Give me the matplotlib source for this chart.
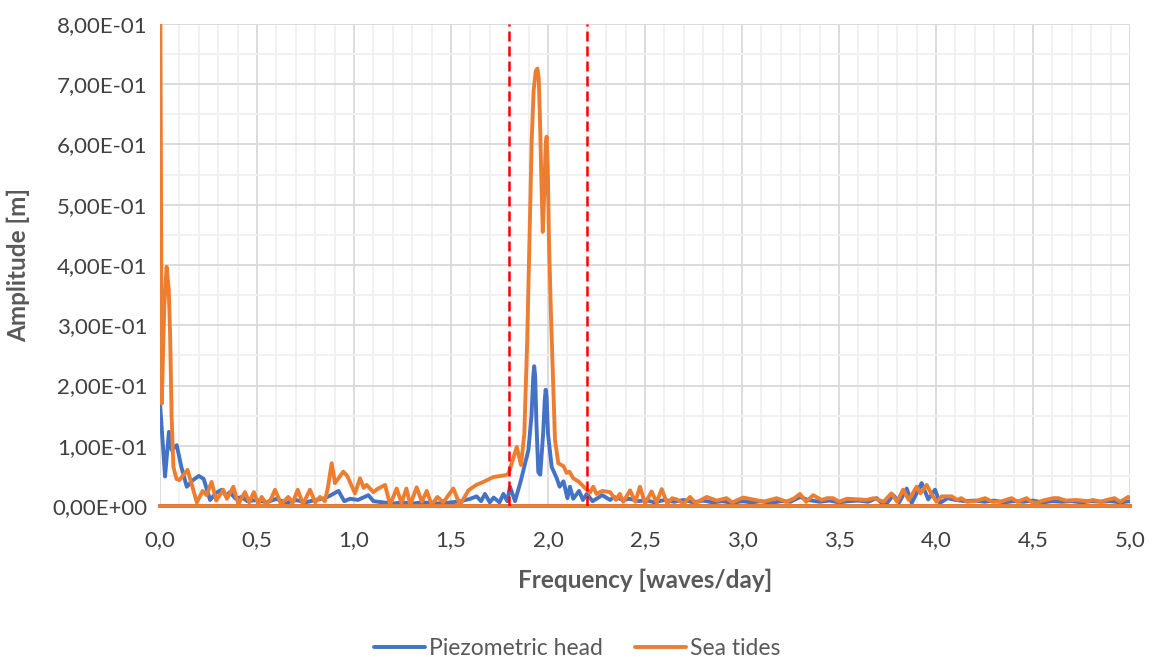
import matplotlib
matplotlib.use("Agg")
import matplotlib.pyplot as plt
from matplotlib.ticker import MultipleLocator, FuncFormatter

# Spectral amplitudes (frequency in waves/day, amplitude in m)
head_freq = [0.0, 0.026, 0.046, 0.06, 0.086, 0.11, 0.138, 0.17, 0.2, 0.225, 0.258, 0.29,
             0.318, 0.34, 0.36, 0.39, 0.42, 0.45, 0.5, 0.55, 0.6, 0.65, 0.7, 0.75, 0.8,
             0.84, 0.87, 0.92, 0.95, 0.98, 1.02, 1.074, 1.1, 1.15, 1.2, 1.25, 1.3, 1.35,
             1.4, 1.45, 1.5, 1.55, 1.6, 1.632, 1.655, 1.675, 1.7, 1.72, 1.75, 1.77, 1.79,
             1.804, 1.83, 1.86, 1.899, 1.915, 1.924, 1.929, 1.934, 1.94, 1.95, 1.96, 1.975,
             1.983, 1.988, 1.993, 2.0, 2.019, 2.045, 2.06, 2.08, 2.1, 2.113, 2.13, 2.16, 2.18,
             2.2, 2.23, 2.28, 2.32, 2.34, 2.39, 2.42, 2.47, 2.5, 2.55, 2.6, 2.65, 2.7, 2.75,
             2.8, 2.85, 2.9, 2.95, 3.0, 3.05, 3.1, 3.15, 3.2, 3.25, 3.3, 3.34, 3.4, 3.45,
             3.5, 3.55, 3.6, 3.65, 3.694, 3.72, 3.75, 3.78, 3.81, 3.849, 3.875, 3.926, 3.96,
             3.995, 4.02, 4.06, 4.1, 4.15, 4.2, 4.25, 4.3, 4.35, 4.4, 4.45, 4.5, 4.55, 4.6,
             4.65, 4.7, 4.75, 4.8, 4.85, 4.9, 4.95, 5.0]
head_amp = [0.171, 0.049, 0.123, 0.093, 0.101, 0.065, 0.032, 0.043, 0.05, 0.045, 0.010, 0.022,
            0.027, 0.017, 0.023, 0.012, 0.015, 0.008, 0.010, 0.006, 0.012, 0.005, 0.010, 0.006, 0.010,
            0.012, 0.016, 0.025, 0.008, 0.012, 0.010, 0.018, 0.008, 0.006, 0.004, 0.006, 0.004, 0.006,
            0.005, 0.004, 0.006, 0.008, 0.012, 0.016, 0.008, 0.020, 0.006, 0.014, 0.006, 0.020, 0.008,
            0.032, 0.008, 0.042, 0.093, 0.150, 0.215, 0.232, 0.215, 0.140, 0.056, 0.052, 0.120,
            0.175, 0.193, 0.180, 0.120, 0.065, 0.046, 0.032, 0.041, 0.013, 0.032, 0.012, 0.025, 0.010,
            0.020, 0.008, 0.018, 0.010, 0.015, 0.010, 0.012, 0.008, 0.010, 0.006, 0.010, 0.007, 0.010, 0.006,
            0.009, 0.006, 0.008, 0.005, 0.008, 0.006, 0.008, 0.005, 0.008, 0.007, 0.015, 0.010, 0.007, 0.009,
            0.006, 0.008, 0.009, 0.007, 0.013, 0.005, 0.006, 0.018, 0.006, 0.029, 0.005, 0.038, 0.011,
            0.027, 0.005, 0.013, 0.010, 0.008, 0.009, 0.007, 0.009, 0.006, 0.008, 0.007, 0.009, 0.006, 0.008,
            0.007, 0.008, 0.006, 0.008, 0.007, 0.008, 0.006, 0.008]

tide_freq = [0.0, 0.009, 0.022, 0.034, 0.045, 0.052, 0.06, 0.069, 0.085, 0.1, 0.142, 0.19, 0.22,
             0.24, 0.266, 0.29, 0.326, 0.345, 0.378, 0.404, 0.438, 0.46, 0.484, 0.506, 0.524,
             0.545, 0.57, 0.593, 0.624, 0.661, 0.685, 0.71, 0.737, 0.773, 0.8, 0.825, 0.85,
             0.865, 0.885, 0.902, 0.945, 0.965, 1.005, 1.031, 1.05, 1.065, 1.1, 1.12, 1.16,
             1.186, 1.22, 1.245, 1.27, 1.29, 1.323, 1.35, 1.375, 1.4, 1.43, 1.46, 1.512, 1.546,
             1.59, 1.63, 1.667, 1.718, 1.778, 1.796, 1.839, 1.861, 1.878, 1.893, 1.905, 1.916,
             1.926, 1.937, 1.945, 1.952, 1.958, 1.965, 1.973, 1.981, 1.988, 1.993, 1.999, 2.005,
             2.015, 2.025, 2.036, 2.053, 2.08, 2.096, 2.11, 2.13, 2.16, 2.19, 2.216, 2.233, 2.25,
             2.28, 2.32, 2.35, 2.37, 2.388, 2.423, 2.45, 2.474, 2.5, 2.534, 2.56, 2.586, 2.615,
             2.64, 2.663, 2.7, 2.732, 2.76, 2.818, 2.87, 2.92, 2.95, 3.006, 3.07, 3.11, 3.179,
             3.23, 3.27, 3.299, 3.33, 3.367, 3.41, 3.44, 3.47, 3.5, 3.54, 3.6, 3.64, 3.68, 3.73,
             3.77, 3.8, 3.83, 3.86, 3.9, 3.92, 3.952, 3.98, 4.003, 4.03, 4.08, 4.11, 4.13, 4.16,
             4.2, 4.253, 4.29, 4.33, 4.39, 4.42, 4.467, 4.49, 4.52, 4.55, 4.605, 4.63, 4.67,
             4.72, 4.78, 4.81, 4.85, 4.88, 4.92, 4.95, 4.97, 4.99, 5.0]
tide_amp = [1.0, 0.170, 0.330, 0.397, 0.360, 0.287, 0.148, 0.065, 0.045, 0.043, 0.060, 0.006, 0.025,
            0.018, 0.040, 0.009, 0.027, 0.012, 0.032, 0.003, 0.023, 0.006, 0.023, 0.003, 0.015,
            0.005, 0.010, 0.027, 0.003, 0.015, 0.006, 0.027, 0.003, 0.027, 0.006, 0.015, 0.008,
            0.030, 0.071, 0.038, 0.057, 0.050, 0.021, 0.046, 0.030, 0.035, 0.023, 0.028, 0.035,
            0.002, 0.029, 0.005, 0.029, 0.002, 0.031, 0.007, 0.025, 0.002, 0.015, 0.006, 0.029, 0.002,
            0.026, 0.035, 0.040, 0.048, 0.051, 0.053, 0.098, 0.068, 0.120, 0.276, 0.450, 0.607,
            0.690, 0.722, 0.726, 0.712, 0.650, 0.553, 0.455, 0.520, 0.600, 0.613, 0.560, 0.440,
            0.320, 0.220, 0.110, 0.071, 0.066, 0.055, 0.057, 0.046, 0.040, 0.030, 0.022, 0.032, 0.020,
            0.025, 0.023, 0.010, 0.020, 0.007, 0.026, 0.007, 0.032, 0.004, 0.024, 0.006, 0.028, 0.004,
            0.013, 0.011, 0.004, 0.015, 0.005, 0.015, 0.009, 0.013, 0.006, 0.014, 0.010, 0.007, 0.013,
            0.007, 0.013, 0.020, 0.007, 0.018, 0.010, 0.013, 0.013, 0.007, 0.012, 0.011, 0.010, 0.013, 0.007,
            0.021, 0.007, 0.027, 0.010, 0.032, 0.021, 0.035, 0.018, 0.007, 0.016, 0.016, 0.010, 0.013, 0.007,
            0.008, 0.013, 0.007, 0.007, 0.013, 0.007, 0.013, 0.007, 0.005, 0.009, 0.013, 0.013, 0.009,
            0.010, 0.008, 0.010, 0.007, 0.010, 0.013, 0.007, 0.011, 0.015, 0.014]

band_limits = [1.8, 2.2]
series_names = ["Piezometric head", "Sea tides"]

BLUE = "#4472C4"
ORANGE = "#ED7D31"
TEXT = "#595959"
FONT = ["Lato", "DejaVu Sans"]

plt.rcParams["font.family"] = FONT

fig = plt.figure(figsize=(11.55, 6.57), dpi=100)
ax = fig.add_axes([160 / 1155, 1 - 506 / 657, (1130 - 160) / 1155, (506 - 24) / 657])

ax.set_xlim(0, 5)
ax.set_ylim(0, 0.8)

ax.xaxis.set_major_locator(MultipleLocator(0.5))
ax.xaxis.set_minor_locator(MultipleLocator(0.1))
ax.yaxis.set_major_locator(MultipleLocator(0.1))
ax.yaxis.set_minor_locator(MultipleLocator(0.05))

ax.grid(which="major", color="#D9D9D9", lw=1.3, zorder=0)
ax.grid(which="minor", color="#F0F0F0", lw=1.3, zorder=0)
ax.set_axisbelow(True)
for s in ax.spines.values():
    s.set_visible(False)

lw = 2.8
ax.axhline(0, color=BLUE, lw=lw, clip_on=False, zorder=3)
ax.plot(head_freq, head_amp, color=BLUE, lw=lw, solid_joinstyle="round",
        solid_capstyle="round", label=series_names[0], zorder=3)
ax.axhline(0, color=ORANGE, lw=lw, clip_on=False, zorder=4)
ax.plot(tide_freq, tide_amp, color=ORANGE, lw=lw, solid_joinstyle="round",
        solid_capstyle="round", label=series_names[1], zorder=4)

for b in band_limits:
    ax.axvline(b, color="#FF0000", lw=1.8, ls=(0, (4, 2)), zorder=5)


def sci_comma(v, _):
    s = f"{v:.2E}"
    mant, exp = s.split("E")
    sign = exp[0]
    return f"{mant.replace('.', ',')}E{sign}{int(exp[1:]):02d}"


ax.yaxis.set_major_formatter(FuncFormatter(sci_comma))
ax.xaxis.set_major_formatter(FuncFormatter(lambda v, _: f"{v:.1f}".replace(".", ",")))

ax.tick_params(which="both", length=0, labelsize=16, labelcolor="#404040")
ax.tick_params(axis="x", pad=17)
ax.tick_params(axis="y", pad=9)

ax.set_xlabel("Frequency [waves/day]", fontsize=17.5, fontweight="bold", color=TEXT, labelpad=14)
ax.set_ylabel("Amplitude [m]", fontsize=17.5, fontweight="bold", color=TEXT, labelpad=16)

fig.legend(loc="lower center", bbox_to_anchor=(0.5, -0.034), ncol=2, frameon=False,
           fontsize=16.5, labelcolor=TEXT, handlelength=2.2, handletextpad=0.2,
           columnspacing=1.4)

fig.savefig("out.png", dpi=100)
